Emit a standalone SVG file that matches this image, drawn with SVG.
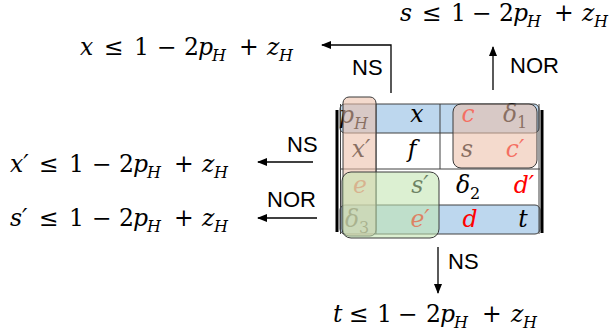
<svg xmlns="http://www.w3.org/2000/svg" width="613" height="335" viewBox="0 0 613 335">
<defs>
<style>
.m{font-family:"DejaVu Serif","Liberation Serif",serif;font-size:23.5px;fill:#000}
.i{font-style:italic}
.sub{font-style:italic;font-size:16px}
.sn{font-size:16px}
.r{fill:#ff0000}
.lbl{font-family:"Liberation Sans",Arial,sans-serif;font-size:22px;fill:#000}
.conn{fill:none;stroke:#000;stroke-width:1.3}
.blue{fill:#bdd7ee;stroke:#404040;stroke-width:1}
.grid{stroke:#404040;stroke-width:1;fill:none}
.brk{stroke:#000;stroke-width:3;fill:none}
.or{fill:#ecbfa8;fill-opacity:0.58;stroke:#3a3a3a;stroke-width:1}
.gr{fill:#c1e4af;fill-opacity:0.57;stroke:#3a3a3a;stroke-width:1}
</style>
<marker id="ah" markerWidth="10" markerHeight="8" refX="9" refY="4" orient="auto" markerUnits="userSpaceOnUse"><path d="M0,0 L10,4 L0,8 z" fill="#000"/></marker>
</defs>

<g id="matrix">
<rect class="blue" x="340" y="104" width="199" height="29" rx="5"/>
<rect class="blue" x="340" y="205" width="200" height="29" rx="5"/>
<line class="grid" x1="340" y1="169" x2="540" y2="169"/>
<line class="grid" x1="440" y1="104" x2="440" y2="169"/>
<line class="grid" x1="376" y1="104" x2="376" y2="234"/>
<line class="grid" x1="340.5" y1="104" x2="340.5" y2="234"/>
<line class="grid" x1="539" y1="104" x2="539" y2="234"/>
<line class="brk" x1="337" y1="110" x2="337" y2="232"/>
<line class="brk" x1="542" y1="110" x2="542" y2="233"/>
<text class="m" y="123"><tspan class="i" x="339">p</tspan><tspan class="sub" x="354" y="129">H</tspan></text>
<text class="m i" x="417" y="122" text-anchor="middle">x</text>
<text class="m i r" x="468" y="122" text-anchor="middle">c</text>
<text class="m" y="122"><tspan class="i" x="503">δ</tspan><tspan class="sn" x="517" y="128">1</tspan></text>
<text class="m i" x="361" y="157" text-anchor="middle">x′</text>
<text class="m i" x="412" y="157" text-anchor="middle">f</text>
<text class="m i" x="467" y="157" text-anchor="middle">s</text>
<text class="m i r" x="515" y="157" text-anchor="middle">c′</text>
<text class="m i r" x="360" y="193" text-anchor="middle">e</text>
<text class="m i" x="420" y="193" text-anchor="middle">s′</text>
<text class="m" y="193"><tspan class="i" x="456">δ</tspan><tspan class="sn" x="470" y="199">2</tspan></text>
<text class="m i r" x="524" y="193" text-anchor="middle">d′</text>
<text class="m" y="227"><tspan class="i" x="345">δ</tspan><tspan class="sn" x="359" y="233">3</tspan></text>
<text class="m i r" x="420" y="227" text-anchor="middle">e′</text>
<text class="m i r" x="470" y="227" text-anchor="middle">d</text>
<text class="m i" x="523" y="227" text-anchor="middle">t</text>
<rect class="or" x="343" y="97" width="33" height="139" rx="6"/>
<rect class="or" x="453" y="104" width="84" height="64" rx="8"/>
<rect class="gr" x="342" y="172" width="97" height="66" rx="9"/>
</g>

<g id="ineq-x">
<text class="m" y="55"><tspan class="i" x="80">x</tspan><tspan x="104">≤</tspan><tspan x="134">1</tspan><tspan x="157">−</tspan><tspan x="184">2</tspan><tspan class="i" x="198">p</tspan><tspan class="sub" x="212" y="61">H</tspan><tspan x="239" y="55">+</tspan><tspan class="i" x="267">z</tspan><tspan class="sub" x="279" y="61">H</tspan></text>
</g>
<g id="ineq-s">
<text class="m" y="21"><tspan class="i" x="400">s</tspan><tspan x="422">≤</tspan><tspan x="451">1</tspan><tspan x="472">−</tspan><tspan x="499">2</tspan><tspan class="i" x="513">p</tspan><tspan class="sub" x="527" y="27">H</tspan><tspan x="554" y="21">+</tspan><tspan class="i" x="582">z</tspan><tspan class="sub" x="594" y="27">H</tspan></text>
</g>
<g id="ineq-x-prime">
<text class="m" y="172"><tspan class="i" x="10">x′</tspan><tspan x="39">≤</tspan><tspan x="69">1</tspan><tspan x="92">−</tspan><tspan x="119">2</tspan><tspan class="i" x="133">p</tspan><tspan class="sub" x="147" y="178">H</tspan><tspan x="174" y="172">+</tspan><tspan class="i" x="202">z</tspan><tspan class="sub" x="214" y="178">H</tspan></text>
</g>
<g id="ineq-s-prime">
<text class="m" y="226"><tspan class="i" x="10">s′</tspan><tspan x="39">≤</tspan><tspan x="69">1</tspan><tspan x="92">−</tspan><tspan x="119">2</tspan><tspan class="i" x="133">p</tspan><tspan class="sub" x="147" y="232">H</tspan><tspan x="174" y="226">+</tspan><tspan class="i" x="202">z</tspan><tspan class="sub" x="214" y="232">H</tspan></text>
</g>
<g id="ineq-t">
<text class="m" y="322"><tspan class="i" x="333">t</tspan><tspan x="349">≤</tspan><tspan x="377">1</tspan><tspan x="398">−</tspan><tspan x="426">2</tspan><tspan class="i" x="440">p</tspan><tspan class="sub" x="454" y="328">H</tspan><tspan x="482" y="322">+</tspan><tspan class="i" x="511">z</tspan><tspan class="sub" x="523" y="328">H</tspan></text>
</g>

<g id="connectors">
<path class="conn" d="M391,93 V45 H322" marker-end="url(#ah)"/>
<path class="conn" d="M493,90 V47" marker-end="url(#ah)"/>
<path class="conn" d="M313,162 H258" marker-end="url(#ah)"/>
<path class="conn" d="M317,218 H258" marker-end="url(#ah)"/>
<path class="conn" d="M438,247 V293" marker-end="url(#ah)"/>
<text class="lbl" x="352" y="75">NS</text>
<text class="lbl" x="510" y="73">NOR</text>
<text class="lbl" x="287" y="152">NS</text>
<text class="lbl" x="267" y="207">NOR</text>
<text class="lbl" x="448" y="269">NS</text>
</g>
</svg>
